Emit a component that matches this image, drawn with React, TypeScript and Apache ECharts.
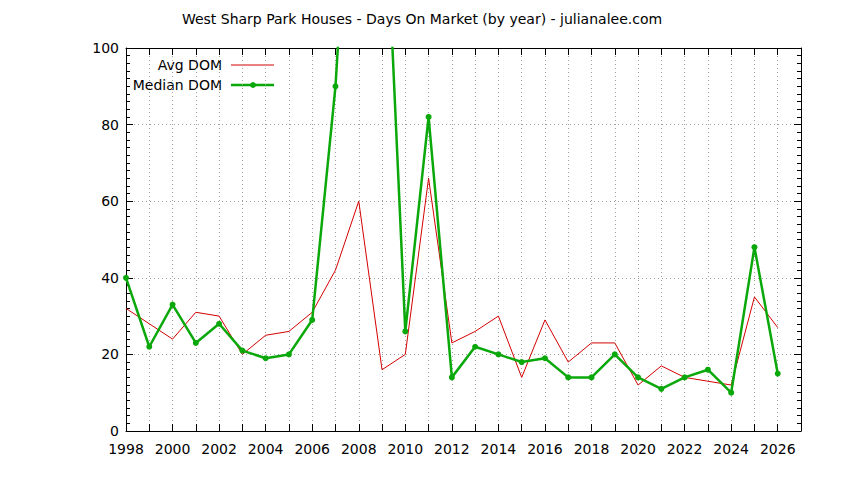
import React, { useEffect, useRef } from "react";
import * as echarts from "echarts";

const years = [1998,1999,2000,2001,2002,2003,2004,2005,2006,2007,2008,2009,2010,2011,2012,2013,2014,2015,2016,2017,2018,2019,2020,2021,2022,2023,2024,2025,2026];
const avgDom = [32,28,24,31,30,20,25,26,31,42,60,16,20,66,23,26,30,14,29,18,23,23,12,17,14,13,12,35,27];
const medianDom = [40,22,33,23,28,21,19,20,29,90,190,160,26,82,14,22,20,18,19,14,14,20,14,11,14,16,10,48,15];
const titleText = "West Sharp Park Houses - Days On Market (by year) - julianalee.com";
const legendNames = ["Avg DOM", "Median DOM"];

const FONT = "DejaVu Sans";
const RED = "#d40000";
const GREEN = "#0aa80a";

export default function App() {
  const ref = useRef<HTMLDivElement>(null);
  useEffect(() => {
    const chart = echarts.init(ref.current!, null, { renderer: "svg" });
    const grid = { left: 126, right: 43, top: 48, bottom: 49 };
    const gridLine = { show: true, lineStyle: { color: "#a0a0a0", type: [1, 3], width: 1 } };
    chart.setOption({
      animation: false,
      backgroundColor: "#ffffff",
      title: {
        text: titleText,
        left: "center",
        top: 7,
        textStyle: { fontFamily: FONT, fontSize: 14, fontWeight: "normal", color: "#000" },
      },
      grid,
      xAxis: [
        {
          type: "value",
          min: 1998,
          max: 2027,
          interval: 1,
          position: "bottom",
          axisLine: { show: true, onZero: false, lineStyle: { color: "#000", width: 1 } },
          axisTick: { show: true, inside: true, length: 7, lineStyle: { color: "#000" } },
          axisLabel: {
            fontFamily: FONT,
            fontSize: 14,
            color: "#000",
            margin: 11,
            showMaxLabel: false,
            formatter: (v: number) => (v % 2 === 0 ? String(v) : ""),
          },
          splitLine: gridLine,
        },
        {
          type: "value",
          min: 1998,
          max: 2027,
          interval: 1,
          position: "top",
          axisLine: { show: true, onZero: false, lineStyle: { color: "#000", width: 1 } },
          axisTick: { show: true, inside: true, length: 7, lineStyle: { color: "#000" } },
          axisLabel: { show: false },
          splitLine: { show: false },
        },
      ],
      yAxis: [
        {
          type: "value",
          min: 0,
          max: 100,
          interval: 20,
          position: "left",
          axisLine: { show: true, onZero: false, lineStyle: { color: "#000", width: 1 } },
          axisTick: { show: true, inside: true, length: 7, lineStyle: { color: "#000" } },
          minorTick: { show: true, splitNumber: 10, length: 4, lineStyle: { color: "#000" } },
          axisLabel: { fontFamily: FONT, fontSize: 14, color: "#000", margin: 7 },
          splitLine: gridLine,
        },
        {
          type: "value",
          min: 0,
          max: 100,
          interval: 20,
          position: "right",
          axisLine: { show: true, onZero: false, lineStyle: { color: "#000", width: 1 } },
          axisTick: { show: true, inside: true, length: 7, lineStyle: { color: "#000" } },
          minorTick: { show: true, splitNumber: 10, length: 4, lineStyle: { color: "#000" } },
          axisLabel: { show: false },
          splitLine: { show: false },
        },
      ],
      series: [
        {
          name: legendNames[0],
          type: "line",
          data: years.map((y, i) => [y, avgDom[i]]),
          showSymbol: false,
          symbol: "none",
          lineStyle: { color: RED, width: 1 },
          clip: true,
          z: 3,
        },
        {
          name: legendNames[1],
          type: "line",
          data: years.map((y, i) => [y, medianDom[i]]),
          symbol: "circle",
          symbolSize: 6,
          itemStyle: { color: GREEN },
          lineStyle: { color: GREEN, width: 2.5 },
          clip: true,
          z: 4,
        },
      ],
      graphic: [
        {
          type: "text",
          x: 222,
          y: 65,
          style: { text: legendNames[0], fontFamily: FONT, fontSize: 14, fill: "#000", align: "right", verticalAlign: "middle" },
        },
        {
          type: "line",
          shape: { x1: 231, y1: 65, x2: 274, y2: 65 },
          style: { stroke: RED, lineWidth: 1 },
        },
        {
          type: "text",
          x: 222,
          y: 85,
          style: { text: legendNames[1], fontFamily: FONT, fontSize: 14, fill: "#000", align: "right", verticalAlign: "middle" },
        },
        {
          type: "line",
          shape: { x1: 231, y1: 85, x2: 274, y2: 85 },
          style: { stroke: GREEN, lineWidth: 2.5 },
        },
        {
          type: "circle",
          shape: { cx: 253, cy: 85, r: 3 },
          style: { fill: GREEN },
        },
      ],
    });
    return () => chart.dispose();
  }, []);
  return <div ref={ref} style={{ position: "fixed", left: 0, top: 0, width: 844, height: 480 }} />;
}
